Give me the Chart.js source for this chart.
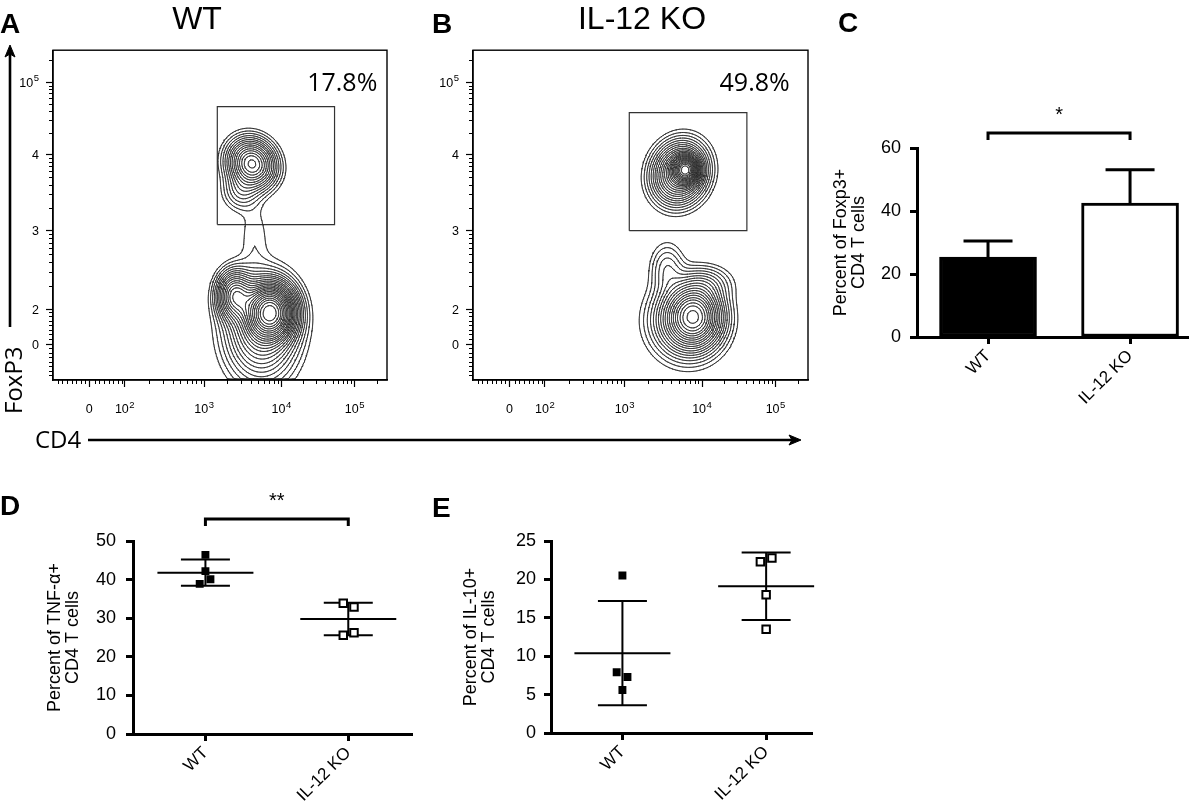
<!DOCTYPE html>
<html>
<head>
<meta charset="utf-8">
<script src="https://cdn.jsdelivr.net/npm/chart.js@4.4.1/dist/chart.umd.min.js"></script>
<style>
  html, body { margin: 0; padding: 0; background: #fff; }
  #page { position: relative; width: 1200px; height: 811px; overflow: hidden; background: #fff; }
  #page canvas { position: absolute; }
  #overlay { position: absolute; left: 0; top: 0; pointer-events: none; }
</style>
</head>
<body>
<div id="page">
  <canvas id="facsA" width="400" height="390" style="left:0px;top:40px"></canvas>
  <canvas id="facsB" width="400" height="390" style="left:420px;top:40px"></canvas>
  <canvas id="barC" width="380" height="330" style="left:820px;top:90px"></canvas>
  <canvas id="dotD" width="400" height="330" style="left:20px;top:480px"></canvas>
  <canvas id="dotE" width="380" height="330" style="left:440px;top:480px"></canvas>

  <svg id="overlay" width="1200" height="811" font-family="'Liberation Sans', Arial, Helvetica, sans-serif">
    <g font-weight="bold" font-size="28" fill="#000">
      <text x="0" y="33">A</text>
      <text x="432" y="33">B</text>
      <text x="838" y="32">C</text>
      <text x="0" y="515">D</text>
      <text x="432" y="517">E</text>
    </g>
    <g font-size="32" fill="#000" text-anchor="middle">
      <text x="197" y="29">WT</text>
      <text x="642" y="29">IL-12 KO</text>
    </g>
    <g font-family="'Open Sans', Lato, sans-serif" font-size="24" fill="#000">
      <text transform="translate(22,414) rotate(-90)">FoxP3</text>
      <text x="35" y="448">CD4</text>
    </g>
    <g stroke="#000" stroke-width="2.6" fill="#000">
      <line x1="10" y1="327" x2="10" y2="54"></line>
      <polygon points="10,45 5,57 10,54 15,57" stroke-width="1"></polygon>
      <line x1="88" y1="440" x2="792" y2="440"></line>
      <polygon points="801,440 789,435 792,440 789,445" stroke-width="1"></polygon>
    </g>
  </svg>
</div>

<script>
// ---------- data ----------
const groups = ['WT', 'IL-12 KO'];
const groupPos = [1, 2];

// panel A / B : flow cytometry (axis units = display decades)
const cd4TickPos = [1.51, 1.97, 3, 4, 4.95];
const cd4TickBase = ['0', '10', '10', '10', '10'];
const cd4TickExp = ['', '2', '3', '4', '5'];
const foxp3TickPos = [1.51, 1.97, 3, 4, 4.95];
const foxp3TickBase = ['0', '2', '3', '4', '10'];
const foxp3TickExp = ['', '', '', '', '5'];
const decadeStarts = [1.97, 3, 4, 4.95];
const decadeMinor = [0.301, 0.477, 0.602, 0.699, 0.778, 0.845, 0.903, 0.954];
const linearMinor = [1.1, 1.16, 1.22, 1.28, 1.34, 1.4, 1.46, 1.58, 1.64, 1.7, 1.76, 1.82, 1.88, 1.93];

// cell populations: [cd4, foxp3, spreadCd4, spreadFoxp3, weight, corr]
const wtPopulations = [
  [3.62, 3.88, 0.17, 0.18, 0.30, -0.1],
  [3.48, 3.52, 0.14, 0.15, 0.05, 0],
  [3.65, 2.95, 0.13, 0.30, 0.016, 0],
  [3.86, 1.93, 0.17, 0.20, 0.72, 0],
  [3.40, 2.15, 0.13, 0.18, 0.25, 0],
  [3.74, 1.72, 0.26, 0.38, 0.20, 0]
];
const koPopulations = [
  [3.79, 3.80, 0.09, 0.10, 0.65, 0],
  [3.71, 3.76, 0.19, 0.22, 0.35, 0.1],
  [3.90, 1.88, 0.19, 0.22, 0.38, 0],
  [3.80, 1.82, 0.26, 0.28, 0.18, 0],
  [3.55, 2.50, 0.13, 0.20, 0.05, 0],
  [4.05, 2.30, 0.20, 0.14, 0.05, 0]
];
const contourLevels = [0.012, 0.02, 0.03, 0.042, 0.056, 0.072, 0.09, 0.11, 0.135, 0.16,
  0.19, 0.22, 0.255, 0.29, 0.33, 0.37, 0.42, 0.47, 0.53, 0.59, 0.66, 0.73, 0.81, 0.9];
// gates: [cd4 min, foxp3 min, cd4 max, foxp3 max]
const wtGate = [3.17, 3.08, 4.69, 4.63];
const koGate = [3.06, 3.0, 4.58, 4.55];
const wtGatePct = '17.8%';
const koGatePct = '49.8%';

// panel C : Foxp3+ of CD4 (mean, SEM)
const foxp3Mean = [25.4, 42.5];
const foxp3Err = [5.1, 10.6];

// panel D : TNF-a+ of CD4
const tnfWT = [46.4, 42.2, 40.1, 38.9];
const tnfKO = [33.9, 32.9, 25.6, 26.2];
const tnfJitterWT = [0, 0, 0.035, -0.04];
const tnfJitterKO = [-0.035, 0.04, -0.035, 0.04];
const tnfMean = [41.8, 29.8];
const tnfSd = [3.4, 4.2];

// panel E : IL-10+ of CD4
const il10WT = [20.5, 7.9, 7.3, 5.6];
const il10KO = [22.3, 22.8, 18.0, 13.5];
const il10JitterWT = [0, -0.04, 0.035, 0];
const il10JitterKO = [-0.04, 0.04, 0, 0];
const il10Mean = [10.4, 19.1];
const il10Sd = [6.8, 4.4];

// ---------- helpers ----------
const sansFamily = "'Liberation Sans', Arial, Helvetica, sans-serif";
Chart.defaults.font.family = sansFamily;
Chart.defaults.color = '#000';

function density(pops, x, y) {
  let d = 0;
  for (const [cx, cy, sx, sy, w, rho] of pops) {
    const dx = (x - cx) / sx, dy = (y - cy) / sy;
    const q = (dx * dx - 2 * rho * dx * dy + dy * dy) / (1 - rho * rho);
    d += w * Math.exp(-0.5 * q);
  }
  return d;
}

/** marching squares -> line pieces separated by gaps */
function contourPoints(pops, levels, lo, hi, n) {
  const step = (hi - lo) / n;
  const g = [];
  let max = 0;
  for (let j = 0; j <= n; j++) {
    const row = [];
    for (let i = 0; i <= n; i++) {
      const edge = i === 0 || j === 0 || i === n || j === n;
      const v = edge ? 0 : density(pops, lo + i * step, lo + j * step);
      if (v > max) max = v;
      row.push(v);
    }
    g.push(row);
  }
  const gap = () => ({ x: null, y: null });
  const out = [];
  for (const frac of levels) {
    const lv = frac * max;
    for (let j = 0; j < n; j++) {
      for (let i = 0; i < n; i++) {
        const x0 = lo + i * step, x1 = x0 + step, y0 = lo + j * step, y1 = y0 + step;
        const a = g[j][i], b = g[j][i + 1], c = g[j + 1][i + 1], d = g[j + 1][i];
        const hit = (p, q) => (p >= lv) !== (q >= lv);
        const e = [];
        e[0] = hit(a, b) ? { x: x0 + (lv - a) / (b - a) * step, y: y0 } : null;
        e[1] = hit(b, c) ? { x: x1, y: y0 + (lv - b) / (c - b) * step } : null;
        e[2] = hit(d, c) ? { x: x0 + (lv - d) / (c - d) * step, y: y1 } : null;
        e[3] = hit(a, d) ? { x: x0, y: y0 + (lv - a) / (d - a) * step } : null;
        const found = e.filter(p => p);
        if (found.length === 2) {
          out.push(found[0], found[1], gap());
        } else if (found.length === 4) {
          const mid = (a + b + c + d) / 4;
          if ((mid >= lv) === (a >= lv)) out.push(e[0], e[1], gap(), e[2], e[3], gap());
          else out.push(e[0], e[3], gap(), e[1], e[2], gap());
        }
      }
    }
  }
  return out;
}

/** draw "10" with a raised exponent; align = 'center' | 'right' */
function drawPowerLabel(ctx, base, exp, x, y, align) {
  ctx.font = '12.5px ' + sansFamily;
  const wb = ctx.measureText(base).width;
  ctx.font = '9.5px ' + sansFamily;
  const we = exp ? ctx.measureText(exp).width + 0.5 : 0;
  const total = wb + we;
  const start = align === 'center' ? x - total / 2 : x - total;
  ctx.textAlign = 'left';
  ctx.textBaseline = 'alphabetic';
  ctx.font = '12.5px ' + sansFamily;
  ctx.fillText(base, start, y);
  if (exp) {
    ctx.font = '9.5px ' + sansFamily;
    ctx.fillText(exp, start + wb + 0.5, y - 5.5);
  }
}

function facsPlugin(pctText, pctPos) {
  return {
    id: 'facsFrame',
    afterDraw(chart) {
      const { ctx, chartArea: ca, scales: { x, y } } = chart;
      ctx.save();
      ctx.strokeStyle = '#000';
      ctx.lineWidth = 1.4;
      ctx.strokeRect(ca.left, ca.top, ca.right - ca.left, ca.bottom - ca.top);
      // minor ticks
      const minor = linearMinor.slice();
      decadeStarts.forEach((s, k) => {
        const span = (decadeStarts[k + 1] || s + 0.95) - s;
        decadeMinor.forEach(f => minor.push(s + f * span));
      });
      ctx.lineWidth = 1;
      ctx.beginPath();
      minor.forEach(v => {
        if (v > x.min && v < x.max) {
          const px = Math.round(x.getPixelForValue(v)) + 0.5;
          ctx.moveTo(px, ca.bottom); ctx.lineTo(px, ca.bottom + 4);
        }
        if (v > y.min && v < y.max) {
          const py = Math.round(y.getPixelForValue(v)) + 0.5;
          ctx.moveTo(ca.left, py); ctx.lineTo(ca.left - 4, py);
        }
      });
      ctx.stroke();
      // tick labels with superscript exponents
      ctx.fillStyle = '#000';
      cd4TickPos.forEach((v, i) => {
        drawPowerLabel(ctx, cd4TickBase[i], cd4TickExp[i], x.getPixelForValue(v), ca.bottom + 33, 'center');
      });
      foxp3TickPos.forEach((v, i) => {
        drawPowerLabel(ctx, foxp3TickBase[i], foxp3TickExp[i], ca.left - 14, y.getPixelForValue(v) + 4.5, 'right');
      });
      ctx.font = "25px 'Open Sans', Lato, sans-serif";
      ctx.textAlign = 'center';
      ctx.textBaseline = 'middle';
      ctx.fillText(pctText, x.getPixelForValue(pctPos[0]), y.getPixelForValue(pctPos[1]));
      ctx.restore();
    }
  };
}

function makeFacs(id, pops, gate, pctText, pctPos, rightPad) {
  const lo = 1.04, hi = 5.37;
  const gateLine = [
    { x: gate[0], y: gate[1] }, { x: gate[2], y: gate[1] }, { x: gate[2], y: gate[3] },
    { x: gate[0], y: gate[3] }, { x: gate[0], y: gate[1] }
  ];
  return new Chart(document.getElementById(id), {
    type: 'scatter',
    data: {
      datasets: [
        { data: contourPoints(pops, contourLevels, lo, hi, 240), showLine: true, spanGaps: false,
          borderColor: '#2a2a2a', borderWidth: 0.9, pointRadius: 0, borderCapStyle: 'round' },
        { data: gateLine, showLine: true, borderColor: '#333', borderWidth: 1.2, pointRadius: 0 }
      ]
    },
    options: {
      responsive: false, animation: false, events: [],
      layout: { padding: { top: 7, right: rightPad, left: 0, bottom: 0 } },
      plugins: { legend: { display: false }, tooltip: { enabled: false } },
      scales: {
        x: {
          type: 'linear', min: lo, max: hi,
          afterFit: s => { s.height = 50; },
          afterBuildTicks: s => { s.ticks = cd4TickPos.map(v => ({ value: v })); },
          ticks: { autoSkip: false, maxRotation: 0, callback: () => '' },
          grid: { drawOnChartArea: false, tickLength: 7, tickColor: '#000', tickWidth: 1.2 },
          border: { color: '#000', width: 1.4 }
        },
        y: {
          type: 'linear', min: lo, max: hi,
          afterFit: s => { s.width = 53; },
          afterBuildTicks: s => { s.ticks = foxp3TickPos.map(v => ({ value: v })); },
          ticks: { autoSkip: false, callback: () => '' },
          grid: { drawOnChartArea: false, tickLength: 7, tickColor: '#000', tickWidth: 1.2 },
          border: { color: '#000', width: 1.4 }
        }
      }
    },
    plugins: [facsPlugin(pctText, pctPos)]
  });
}

function bracketPlugin(level, label) {
  return {
    id: 'sigBracket',
    afterDraw(chart) {
      const { ctx, scales: { x, y } } = chart;
      const x1 = x.getPixelForValue(groupPos[0]), x2 = x.getPixelForValue(groupPos[1]);
      const py = y.getPixelForValue(level);
      ctx.save();
      ctx.strokeStyle = '#000';
      ctx.lineWidth = 3;
      ctx.beginPath();
      ctx.moveTo(x1, py + 7); ctx.lineTo(x1, py); ctx.lineTo(x2, py); ctx.lineTo(x2, py + 7);
      ctx.stroke();
      ctx.fillStyle = '#000';
      ctx.font = '20px ' + sansFamily;
      ctx.textAlign = 'center';
      ctx.textBaseline = 'alphabetic';
      ctx.fillText(label, (x1 + x2) / 2, py - 12);
      ctx.restore();
    }
  };
}

function axisStyle(extra) {
  return Object.assign({
    type: 'linear', offset: false,
    grid: { drawOnChartArea: false, offset: false, tickLength: 7, tickColor: '#000', tickWidth: 3 },
    border: { color: '#000', width: 3 }
  }, extra);
}

function groupAxis(min, max, height) {
  return axisStyle({
    min, max,
    afterFit: s => { s.height = height; },
    afterBuildTicks: s => { s.ticks = groupPos.map(v => ({ value: v })); },
    ticks: { autoSkip: false, minRotation: 45, maxRotation: 45, padding: 2, font: { size: 17 },
      callback: (v, i) => groups[i] }
  });
}

function valueAxis(max, stepSize, width, lines, titlePad, tickPad) {
  return axisStyle({
    min: 0, max,
    afterFit: s => { s.width = width; },
    ticks: { stepSize, padding: tickPad, font: { size: 18 } },
    title: { display: true, text: lines, font: { size: 18, lineHeight: 1.0 },
      padding: { top: titlePad, bottom: 0 } }
  });
}

// ---------- panels A, B ----------
makeFacs('facsA', wtPopulations, wtGate, wtGatePct, [4.79, 4.93], 13);
makeFacs('facsB', koPopulations, koGate, koGatePct, [4.68, 4.93], 12);

// ---------- panel C ----------
new Chart(document.getElementById('barC'), {
  type: 'bar',
  data: {
    datasets: [{
      data: groupPos.map((g, i) => ({ x: g, y: foxp3Mean[i] })),
      backgroundColor: ['#000', '#fff'], borderColor: '#000', borderWidth: 3,
      borderSkipped: false, barThickness: 97
    }]
  },
  options: {
    responsive: false, animation: false, events: [],
    layout: { padding: { top: 58, right: 12, left: 0, bottom: 0 } },
    plugins: { legend: { display: false }, tooltip: { enabled: false } },
    scales: {
      x: groupAxis(0.5, 2.408, 83),
      y: valueAxis(60, 20, 97, ['Percent of Foxp3+', 'CD4 T cells'], 12, 9)
    }
  },
  plugins: [{
    id: 'semBars',
    afterDatasetsDraw(chart) {
      const { ctx, scales: { x, y } } = chart;
      ctx.save();
      ctx.strokeStyle = '#000';
      ctx.lineWidth = 3;
      ctx.beginPath();
      groupPos.forEach((g, i) => {
        const px = x.getPixelForValue(g);
        const top = y.getPixelForValue(foxp3Mean[i] + foxp3Err[i]);
        ctx.moveTo(px, y.getPixelForValue(foxp3Mean[i]));
        ctx.lineTo(px, top);
        ctx.moveTo(px - 24.5, top); ctx.lineTo(px + 24.5, top);
      });
      ctx.stroke();
      ctx.restore();
    }
  }, bracketPlugin(64.8, '*')]
});

// ---------- panels D, E ----------
function meanSdPlugin(means, sds) {
  return {
    id: 'meanSd',
    beforeDatasetsDraw(chart) {
      const { ctx, scales: { x, y } } = chart;
      ctx.save();
      ctx.strokeStyle = '#000';
      ctx.lineWidth = 2;
      ctx.beginPath();
      groupPos.forEach((g, i) => {
        const px = x.getPixelForValue(g);
        const ym = y.getPixelForValue(means[i]);
        const yh = y.getPixelForValue(means[i] + sds[i]);
        const yl = y.getPixelForValue(means[i] - sds[i]);
        ctx.moveTo(px - 48, ym); ctx.lineTo(px + 48, ym);
        ctx.moveTo(px - 24.5, yh); ctx.lineTo(px + 24.5, yh);
        ctx.moveTo(px - 24.5, yl); ctx.lineTo(px + 24.5, yl);
        ctx.moveTo(px, yh); ctx.lineTo(px, yl);
      });
      ctx.stroke();
      ctx.restore();
    }
  };
}

function makeDot(id, wt, ko, jitWT, jitKO, means, sds, xr, yMax, step, yWidth, lines, titlePad, tickPad, extraPlugins) {
  return new Chart(document.getElementById(id), {
    type: 'scatter',
    data: {
      datasets: [
        { data: wt.map((v, i) => ({ x: groupPos[0] + jitWT[i], y: v })),
          pointStyle: 'rect', pointRadius: 5.6, backgroundColor: '#000', borderWidth: 0 },
        { data: ko.map((v, i) => ({ x: groupPos[1] + jitKO[i], y: v })),
          pointStyle: 'rect', pointRadius: 5.3, backgroundColor: '#fff', borderColor: '#000', borderWidth: 2 }
      ]
    },
    options: {
      responsive: false, animation: false, events: [],
      layout: { padding: { top: 61, right: 5, left: 0, bottom: 0 } },
      plugins: { legend: { display: false }, tooltip: { enabled: false } },
      scales: {
        x: groupAxis(xr[0], xr[1], xr[2]),
        y: valueAxis(yMax, step, yWidth, lines, titlePad, tickPad)
      }
    },
    plugins: [meanSdPlugin(means, sds)].concat(extraPlugins)
  });
}

makeDot('dotD', tnfWT, tnfKO, tnfJitterWT, tnfJitterKO, tnfMean, tnfSd,
  [0.493, 2.451, 76], 50, 10, 113, ['Percent of TNF-\u03b1+', 'CD4 T cells'], 26, 10,
  [bracketPlugin(55.7, '**')]);
makeDot('dotE', il10WT, il10KO, il10JitterWT, il10JitterKO, il10Mean, il10Sd,
  [0.503, 2.324, 77], 25, 5, 111, ['Percent of IL-10+', 'CD4 T cells'], 22, 8, []);
</script>
</body>
</html>
